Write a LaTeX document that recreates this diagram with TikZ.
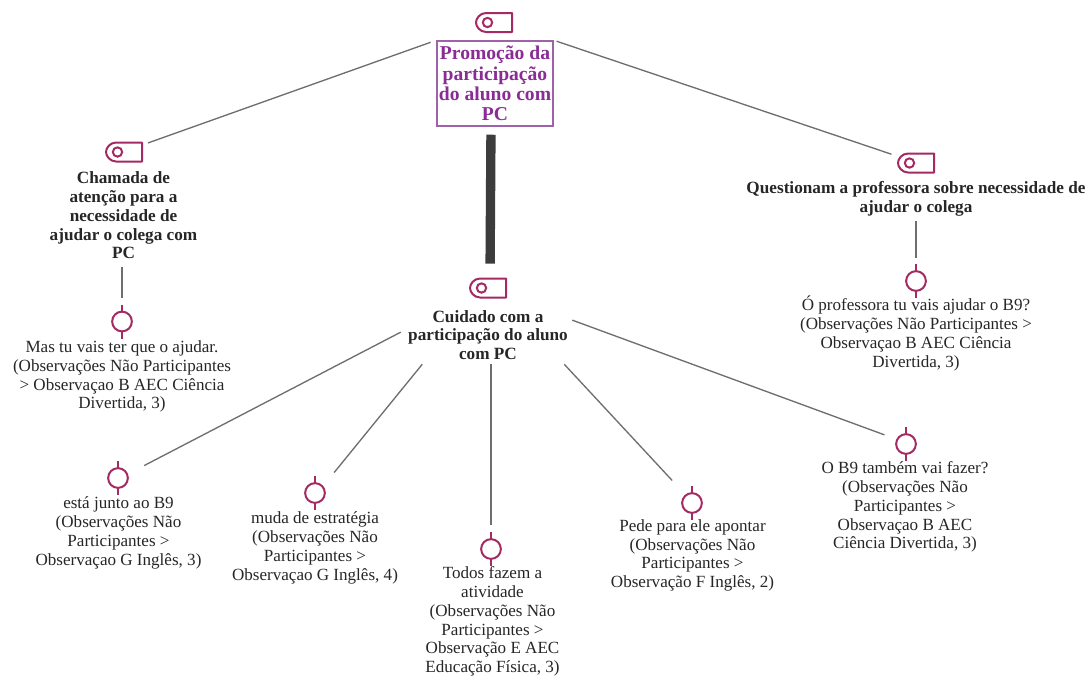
\documentclass[tikz,border=0pt]{standalone}
\usepackage{fontspec}
\setmainfont{Liberation Serif}
\definecolor{iconc}{HTML}{A32A62}
\definecolor{linec}{HTML}{6E6E6E}
\definecolor{thickc}{HTML}{3C3C3C}
\definecolor{rootc}{HTML}{8A2B96}
\definecolor{rootb}{HTML}{A061AB}
\definecolor{textc}{HTML}{262626}
\tikzset{
  x=0.75pt,y=-0.75pt,
  conn/.style={draw=linec,line width=1pt},
  thickconn/.style={draw=thickc,line width=7pt},
  tagbox/.style={inner sep=0pt,minimum width=27pt,minimum height=14.25pt},
  pinbox/.style={inner sep=0pt,minimum width=15pt,minimum height=25.5pt},
  body/.style={align=center,inner sep=0pt,text=textc,font=\fontsize{12.8}{14.1}\selectfont},
  head/.style={body,font=\fontsize{12.9}{14.1}\selectfont\bfseries,text=textc},
  roottext/.style={align=center,inner sep=0pt,draw=rootb,line width=1.1pt,text=rootc,
    font=\fontsize{14.7}{15.3}\selectfont\bfseries,minimum width=87pt,minimum height=63.75pt},
  tagicon/.pic={
    \draw[iconc,line width=1.5pt,line join=round]
      (-8,-9.5) .. controls (-14,-9.5) and (-18,-4) .. (-18,0)
      .. controls (-18,4) and (-14,9.5) .. (-8,9.5)
      -- (18,9.5) -- (18,-9.5) -- cycle;
    \draw[iconc,line width=1.5pt] (-6.5,0) circle[radius=3.5pt];
  },
  pinicon/.pic={
    \draw[iconc,line width=1.5pt] (0,0) circle[radius=7.4pt];
    \draw[iconc,line width=1.5pt] (0,-17) -- (0,-10) (0,10) -- (0,17);
  }
}
\begin{document}
\begin{tikzpicture}
\useasboundingbox (0,0) rectangle (1088,675);
% root
\node[roottext] (root) at (495,83.5) {Promoção da\\participação\\do aluno com\\PC};
\node[tagbox] (tagR) at (494,22.5) {}; \pic at (tagR) {tagicon};
% left
\node[tagbox] (tagA) at (124,152) {}; \pic at (tagA) {tagicon};
\node[head,minimum height=71pt] (chamada) at (123.5,215.5) {Chamada de\\atenção para a\\necessidade de\\ajudar o colega com\\PC};
\node[pinbox] (pinA) at (122,321.5) {}; \pic at (pinA) {pinicon};
\node[body] (mas) at (122,376.5) {Mas tu vais ter que o ajudar.\\(Observações Não Participantes\\> Observaçao B AEC Ciência\\Divertida, 3)};
% right
\node[tagbox] (tagB) at (916,163) {}; \pic at (tagB) {tagicon};
\node[head,minimum height=28.5pt] (quest) at (916,198.5) {Questionam a professora sobre necessidade de\\ajudar o colega};
\node[pinbox] (pinB) at (916,281) {}; \pic at (pinB) {pinicon};
\node[body] (oprof) at (916,333.5) {Ó professora tu vais ajudar o B9?\\(Observações Não Participantes >\\Observaçao B AEC Ciência\\Divertida, 3)};
% centre
\node[tagbox] (tagC) at (488,288) {}; \pic at (tagC) {tagicon};
\node[head,minimum width=126pt,minimum height=43.5pt] (cuid) at (488,335) {Cuidado com a\\participação do aluno\\com PC};
\node[pinbox] (pin1) at (118,478) {}; \pic at (pin1) {pinicon};
\node[body] (t1) at (118.5,533) {está junto ao B9\\(Observações Não\\Participantes >\\Observaçao G Inglês, 3)};
\node[pinbox] (pin2) at (315,493) {}; \pic at (pin2) {pinicon};
\node[body] (t2) at (315,548) {muda de estratégia\\(Observações Não\\Participantes >\\Observaçao G Inglês, 4)};
\node[pinbox] (pin3) at (491,549) {}; \pic at (pin3) {pinicon};
\node[body] (t3) at (492.5,621.5) {Todos fazem a\\atividade\\(Observações Não\\Participantes >\\Observação E AEC\\Educação Física, 3)};
\node[pinbox] (pin4) at (692,503) {}; \pic at (pin4) {pinicon};
\node[body] (t4) at (692.5,555.5) {Pede para ele apontar\\(Observações Não\\Participantes >\\Observação F Inglês, 2)};
\node[pinbox] (pin5) at (906,444) {}; \pic at (pin5) {pinicon};
\node[body] (t5) at (905,507) {O B9 também vai fazer?\\(Observações Não\\Participantes >\\Observaçao B AEC\\Ciência Divertida, 3)};
% connectors
\draw[conn,shorten <=4.5pt,shorten >=4.5pt] (root.north west) -- (tagA.21);
\draw[conn,shorten <=2.2pt,shorten >=5pt] (root.north east) -- (tagB.160);
\draw[thickconn,shorten <=6pt,shorten >=11pt] ([xshift=-3pt]root.south) -- ([xshift=1.5pt]tagC.north);
\draw[conn,shorten <=2.6pt,shorten >=4.5pt] (pinA.north |- chamada.south) -- (pinA.north);
\draw[conn,shorten <=2.3pt,shorten >=4.5pt] (pinB.north |- quest.south) -- (pinB.north);
\draw[conn,shorten <=2.5pt,shorten >=13.5pt] (cuid.177.5) -- (pin1.22);
\draw[conn,shorten >=10.5pt] (cuid.204.7) -- (pin2.43);
\draw[conn,shorten >=5.2pt] (pin3.north |- cuid.south) -- (pin3.north);
\draw[conn,shorten >=10.5pt] (cuid.-21.9) -- (pin4.130);
\draw[conn,shorten >=9pt] (cuid.10.4) -- (pin5.154);
\end{tikzpicture}
\end{document}
